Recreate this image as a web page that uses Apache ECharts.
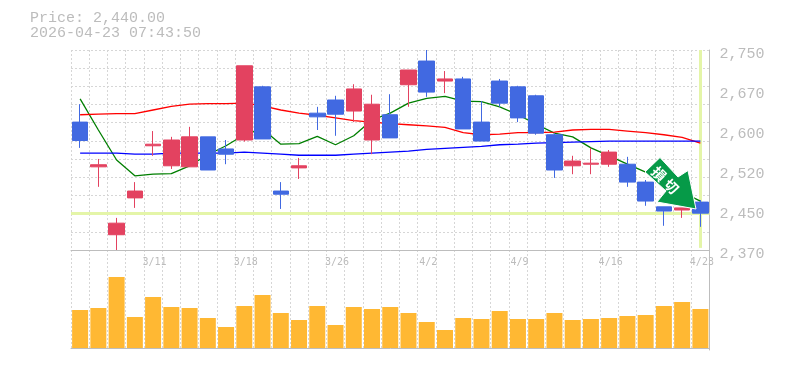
<!DOCTYPE html>
<html>
<head>
<meta charset="utf-8">
<style>html,body{margin:0;padding:0;background:#fff}#c{width:785px;height:370px}</style>
<script src="https://cdn.jsdelivr.net/npm/echarts@6/dist/echarts.min.js"></script>
</head>
<body>
<div id="c"></div>
<script>
const headerLines = ['Price: 2,440.00', '2026-04-23 07:43:50'];
const dates = ['3/5','3/6','3/9','3/10','3/11','3/12','3/13','3/16','3/17','3/18','3/19','3/23','3/24','3/25','3/26','3/27','3/30','3/31','4/1','4/2','4/3','4/6','4/7','4/8','4/9','4/10','4/13','4/14','4/15','4/16','4/17','4/20','4/21','4/22','4/23'];
const priceLabels = ['2,370','2,450','2,520','2,600','2,670','2,750'];
const priceLabelValues = [2370,2446,2522,2598,2674,2750];
const currentPrice = 2440;
const arrowWords = ['損','切'];
const opens  = [2613,2528,2399,2469,2568,2530,2528,2585,2562,2579,2680,2482,2526,2630,2655,2634,2579,2627,2684,2729,2691,2695,2613,2691,2680,2663,2589,2530,2533,2533,2533,2499,2452,2446,2461];
const closes = [2578,2532,2421,2482,2571,2579,2585,2522,2552,2720,2581,2476,2530,2623,2628,2676,2647,2583,2712,2670,2695,2600,2577,2649,2621,2592,2522,2539,2535,2556,2499,2463,2444,2450,2440];
const lows   = [2564,2490,2370,2450,2549,2524,2528,2522,2533,2576,2581,2448,2505,2598,2587,2613,2552,2583,2642,2661,2668,2600,2577,2642,2613,2589,2507,2514,2514,2528,2490,2454,2416,2431,2414];
const highs  = [2647,2543,2431,2499,2596,2585,2604,2585,2579,2720,2682,2499,2545,2642,2663,2685,2665,2666,2712,2750,2710,2699,2653,2695,2682,2665,2592,2549,2564,2560,2547,2503,2452,2450,2465];
const maShort = [2657,2598,2541,2511,2514,2515,2530,2551,2568,2589,2600,2571,2572,2586,2570,2587,2617,2630,2649,2658,2662,2653,2652,2642,2627,2609,2592,2585,2564,2549,2533,2518,2499,2480,2463];
const maMid   = [2627,2628,2629,2629,2636,2643,2647,2648,2648,2649,2644,2636,2630,2626,2621,2616,2613,2610,2608,2606,2603,2593,2589,2590,2593,2593,2594,2598,2599,2599,2596,2593,2589,2584,2573];
const maLong  = [2554,2554,2554,2552,2552,2554,2554,2554,2554,2556,2554,2552,2550,2550,2550,2552,2554,2556,2558,2561,2563,2565,2567,2570,2571,2573,2574,2575,2576,2577,2577,2577,2577,2577,2577];
const volumes = [38,40,71,31,51,41,40,30,21,42,53,35,28,42,23,41,39,41,35,26,18,30,29,37,29,29,35,28,29,30,32,33,42,46,39];

const priceGridValues = Array.from({length: 12}, (_, i) => 2370 + i * 380 / 11);
const candles = dates.map((_, i) => [opens[i], closes[i], lows[i], highs[i]]);
const mono = '"Liberation Mono", "DejaVu Sans Mono", monospace';
const gray = '#bcbcbc', axisGray = '#bdbdbd';
const dash = {color: '#d6d6d6', width: 1, type: [2, 2]};
const lineSeries = (name, data, color) => ({
  type: 'line', name, data, xAxisIndex: 0, yAxisIndex: 0, symbol: 'none', z: 2, silent: true,
  lineStyle: {color, width: 1.3}, animation: false
});
const gridLeft = 71, gridWidth = 638.5;

const chart = echarts.init(document.getElementById('c'), null, {renderer: 'canvas'});
chart.setOption({
  animation: false,
  backgroundColor: '#fff',
  title: {
    text: headerLines.join('\n'), left: 30, top: 11, padding: 0,
    textStyle: {fontFamily: mono, fontSize: 15, fontWeight: 'normal', color: gray, lineHeight: 15}
  },
  grid: [
    {left: gridLeft, top: 50, width: gridWidth, height: 200},
    {left: gridLeft, top: 250, width: gridWidth, height: 100}
  ],
  xAxis: [
    {type: 'category', gridIndex: 0, data: dates, boundaryGap: true,
     axisLine: {show: true, lineStyle: {color: axisGray, width: 1}}, axisTick: {show: false, interval: 0},
     axisLabel: {show: true, interval: i => i % 5 === 4, fontFamily: '"DejaVu Sans Mono", monospace', fontSize: 10, color: gray, margin: 7, hideOverlap: false, padding: [0, 0, 0, 3]},
     splitLine: {show: true, interval: 0, lineStyle: dash}},
    {type: 'category', gridIndex: 1, data: dates, boundaryGap: true,
     axisLine: {show: true, lineStyle: {color: axisGray, width: 1}}, axisTick: {show: false, interval: 0},
     axisLabel: {show: false}, splitLine: {show: true, interval: 0, lineStyle: dash}}
  ],
  yAxis: [
    {type: 'value', gridIndex: 0, position: 'right', min: 2370, max: 2750, scale: true,
     axisLine: {show: true, lineStyle: {color: axisGray, width: 1}},
     axisTick: {show: false, customValues: priceGridValues},
     axisLabel: {show: true, customValues: priceLabelValues, margin: 10, verticalAlign: 'top', lineHeight: 8,
       fontFamily: mono, fontSize: 15, color: gray,
       formatter: v => priceLabels[priceLabelValues.indexOf(v)]},
     splitLine: {show: true, lineStyle: dash}},
    {type: 'value', gridIndex: 1, position: 'right', min: -2, max: 98,
     axisLine: {show: true, lineStyle: {color: axisGray, width: 1}},
     axisTick: {show: false}, axisLabel: {show: false}, splitLine: {show: false}}
  ],
  series: [
    lineSeries('short', maShort, '#007f00'),
    lineSeries('mid', maMid, '#ff0000'),
    lineSeries('long', maLong, '#0000ff'),
    {type: 'candlestick', data: candles, xAxisIndex: 0, yAxisIndex: 0, barWidth: 16, z: 3, silent: true,
     itemStyle: {color: '#e34260', color0: '#4169e1', borderColor: '#e34260', borderColor0: '#4169e1', borderWidth: 1},
     markLine: {silent: true, symbol: 'none', z: 1, label: {show: false}, animation: false,
       lineStyle: {color: '#e4f5a8', width: 3, type: 'solid'},
       data: [{yAxis: currentPrice},
              [{xAxis: dates.length - 1, yAxis: 2750}, {xAxis: dates.length - 1, yAxis: 2374}]]}},
    {type: 'bar', data: volumes, xAxisIndex: 1, yAxisIndex: 1, barWidth: 16, z: 3, silent: true,
     itemStyle: {color: '#ffb833'}}
  ],
  graphic: [
    {type: 'polygon', z: 100, silent: true,
     shape: {points: [[645,172],[660,157.5],[678,177],[688,170.5],[696,209],[657,202],[666,191]]},
     style: {fill: '#069a48', stroke: '#fff', lineWidth: 1}},
    {type: 'text', z: 101, silent: true, x: 659, y: 174, rotation: -Math.PI / 4,
     style: {text: arrowWords[0], fill: '#fff', font: 'bold 14px "Noto Sans CJK JP"', align: 'center', verticalAlign: 'middle'}},
    {type: 'text', z: 101, silent: true, x: 671.5, y: 186.5, rotation: -Math.PI / 4,
     style: {text: arrowWords[1], fill: '#fff', font: 'bold 14px "Noto Sans CJK JP"', align: 'center', verticalAlign: 'middle'}}
  ]
});
</script>
</body>
</html>
